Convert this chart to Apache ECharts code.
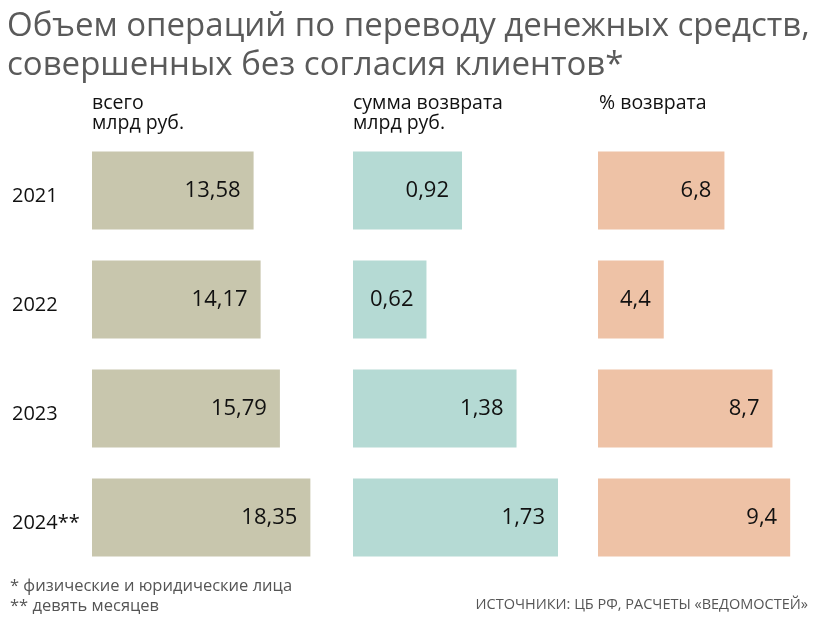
<!DOCTYPE html>
<html><head><meta charset="utf-8">
<script src="https://cdn.jsdelivr.net/npm/echarts@6/dist/echarts.min.js"></script>
<style>html,body{margin:0;padding:0;background:#fff}#c{width:819px;height:623px}</style>
</head><body><div id="c"></div>
<script>
const years = ['2021', '2022', '2023', '2024**'];
const totalBn = [13.58, 14.17, 15.79, 18.35];
const refundBn = [0.92, 0.62, 1.38, 1.73];
const refundPct = [6.8, 4.4, 8.7, 9.4];

const titleText = 'Объем операций по переводу денежных средств,\nсовершенных без согласия клиентов*';
const headers = ['всего\nмлрд руб.', 'сумма возврата\nмлрд руб.', '% возврата'];
const notes = '* физические и юридические лица\n** девять месяцев';
const source = 'ИСТОЧНИКИ: ЦБ РФ, РАСЧЕТЫ «ВЕДОМОСТЕЙ»';

const colors = ['#c8c6ad', '#b5dad4', '#eec2a6'];
const FONT = '"Open Sans", "Noto Sans", sans-serif';

const panels = [
  {left: 92, width: 238, min: 0, max: 20, data: totalBn, dec: 2},
  {left: 353, width: 237, min: 0, max: 2, data: refundBn, dec: 2},
  {left: 598, width: 220, min: 1.8, max: 10.5, data: refundPct, dec: 1}
];

const fmt = (v, d) => v.toFixed(d).replace('.', ',');
const hdrStyle = {fontFamily: FONT, fontSize: 19.5, fontWeight: 'normal', color: '#111', lineHeight: 20};

const option = {
  backgroundColor: '#fff',
  animation: false,
  textStyle: {fontFamily: FONT},
  title: [
    {text: titleText, left: 2, top: 2,
     textStyle: {fontFamily: FONT, fontSize: 33, fontWeight: 'normal', color: '#5a5a5a', lineHeight: 39}},
    {text: headers[0], left: 87, top: 88, textStyle: hdrStyle},
    {text: headers[1], left: 348, top: 88, textStyle: hdrStyle},
    {text: headers[2], left: 594, top: 88, textStyle: hdrStyle},
    {text: notes, left: 5, top: 571, textStyle: {fontFamily: FONT, fontSize: 16.5, fontWeight: 'normal', color: '#555', lineHeight: 20}},
    {text: source, right: 6, top: 592, textStyle: {fontFamily: FONT, fontSize: 14.5, fontWeight: 'normal', color: '#555'}}
  ],
  grid: panels.map(p => ({left: p.left, width: p.width, top: 136, height: 436})),
  xAxis: panels.map((p, i) => ({
    type: 'value', gridIndex: i, min: p.min, max: p.max, show: false
  })),
  yAxis: panels.map((p, i) => ({
    type: 'category', gridIndex: i, data: years, inverse: true,
    axisLine: {show: false}, axisTick: {show: false}, splitLine: {show: false},
    axisLabel: i === 0 ? {
      show: true, align: 'left', margin: 80,
      formatter: v => '{y|' + v + '}',
      rich: {y: {fontSize: 20, color: '#111', fontFamily: FONT, padding: [11, 0, 0, 0]}}
    } : {show: false}
  })),
  series: panels.map((p, i) => ({
    type: 'bar', xAxisIndex: i, yAxisIndex: i, data: p.data, barWidth: 78,
    itemStyle: {color: colors[i]},
    label: {show: true, position: 'insideRight', distance: 13, fontSize: 22, color: '#111', fontFamily: FONT,
            padding: [4, 0, 0, 0],
            formatter: params => fmt(params.value, p.dec)}
  }))
};
echarts.init(document.getElementById('c'), null, {renderer: 'canvas'}).setOption(option);
</script></body></html>
